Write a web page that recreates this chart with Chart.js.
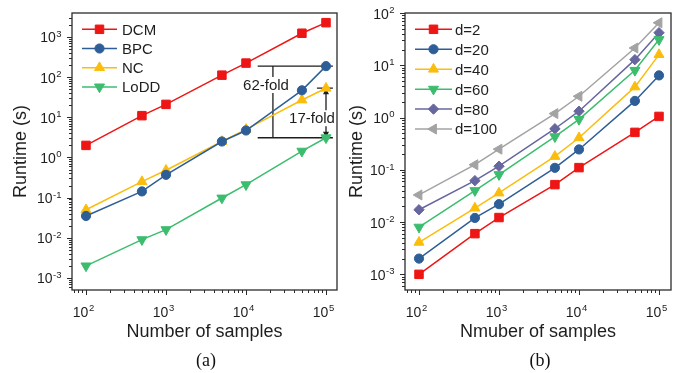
<!DOCTYPE html>
<html><head><meta charset="utf-8">
<script src="https://cdn.jsdelivr.net/npm/chart.js@4.4.1/dist/chart.umd.min.js"></script>
<style>
html,body{margin:0;padding:0;background:#fff;width:693px;height:373px;overflow:hidden}
#wa{position:absolute;left:0;top:0;width:346px;height:373px}
#wb{position:absolute;left:346px;top:0;width:347px;height:373px}
.cap{position:absolute;top:350px;font-family:"Liberation Serif","Times New Roman",serif;font-size:18px;line-height:20px;color:#111;width:40px;text-align:center}
</style></head><body>
<div id="wa"><canvas id="ca" width="346" height="373"></canvas></div>
<div id="wb"><canvas id="cb" width="347" height="373"></canvas></div>
<div class="cap" style="left:186px">(a)</div>
<div class="cap" style="left:520px">(b)</div>
<script>
// ---- data ----
const samples = [100, 500, 1000, 5000, 10000, 50000, 100000];
// panel (a)
const dcm  = [2, 11, 21, 112, 224, 1240, 2270];
const bpc  = [0.035, 0.143, 0.37, 2.5, 4.7, 47, 188];
const nc   = [0.05, 0.25, 0.48, 2.5, 5.0, 27, 53];
const lodd = [0.002, 0.009, 0.016, 0.098, 0.21, 1.44, 3.1];
// panel (b)
const d2   = [0.001, 0.006, 0.0122, 0.052, 0.11, 0.52, 1.05];
const d20  = [0.002, 0.012, 0.022, 0.109, 0.245, 2.08, 6.4];
const d40  = [0.0041, 0.0185, 0.036, 0.18, 0.41, 3.85, 16];
const d60  = [0.008, 0.04, 0.081, 0.43, 0.92, 8.0, 31];
const d80  = [0.0172, 0.062, 0.117, 0.61, 1.32, 12.8, 42];
const d100 = [0.033, 0.125, 0.248, 1.19, 2.55, 21.4, 65];
// tick labels (exponents of 10)
const xTickExps  = [2, 3, 4, 5];
const yTickExpsA = [-3, -2, -1, 0, 1, 2, 3];
const yTickExpsB = [-3, -2, -1, 0, 1, 2];
// annotation labels
const foldLabels = ['62-fold', '17-fold'];

const FONT = "'Liberation Sans', Arial, Helvetica, sans-serif";
const C = {red:'#ee1515', blue:'#2e5e97', yellow:'#fbbd0d', green:'#3cbd6e', purple:'#67679f', gray:'#a3a3a3'};

function series(arr){ return samples.map((x,i)=>({x:x, y:arr[i]})); }
function ds(label, arr, color, style, radius, rotation){
  return {label, data: series(arr), borderColor: color, backgroundColor: color,
    pointBackgroundColor: color, pointBorderColor: color, pointStyle: style,
    pointRadius: radius, pointHoverRadius: radius, pointRotation: rotation||0, pointBorderWidth: 1,
    borderWidth: 1.5, tension: 0, fill: false, clip: false};
}

function drawMarker(ctx, style, r, rot, x, y){
  if (Chart.helpers && Chart.helpers.drawPoint){
    Chart.helpers.drawPoint(ctx, {pointStyle: style, radius: r, rotation: rot, borderWidth: 1}, x, y);
    return;
  }
  ctx.beginPath(); ctx.arc(x, y, r, 0, Math.PI*2); ctx.fill(); ctx.stroke();
}

function drawPow(ctx, x, cy, e, align){
  ctx.font = '14px ' + FONT;
  const w10 = ctx.measureText('10').width;
  ctx.font = '9.5px ' + FONT;
  const se = String(e);
  const we = ctx.measureText(se).width + 0.5;
  const w = w10 + we;
  let sx = align === 'center' ? x - w/2 - 2.5 : x - w;
  ctx.textAlign = 'left'; ctx.textBaseline = 'alphabetic';
  ctx.font = '14px ' + FONT;
  ctx.fillText('10', sx, cy + 5);
  ctx.font = '9.5px ' + FONT;
  ctx.fillText(se, sx + w10 + 0.5, cy - 4 + 3.4);
}

const frameTicks = {
  id: 'frameTicks',
  afterDraw(chart, args, opts){
    const ctx = chart.ctx, ca = chart.chartArea;
    const xs = chart.scales.x, ys = chart.scales.y;
    ctx.save();
    ctx.strokeStyle = '#2b2b2b'; ctx.lineWidth = 1.3;
    ctx.strokeRect(ca.left, ca.top, ca.right - ca.left, ca.bottom - ca.top);
    ctx.lineWidth = 1;
    ctx.beginPath();
    for (let e = Math.floor(Math.log10(xs.min)); e <= Math.ceil(Math.log10(xs.max)); e++){
      for (let k = 1; k < 10; k++){
        const v = k * Math.pow(10, e);
        if (v < xs.min || v > xs.max) continue;
        const px = Math.round(xs.getPixelForValue(v)) + 0.5;
        const len = k === 1 ? 5 : 3;
        ctx.moveTo(px, ca.bottom); ctx.lineTo(px, ca.bottom + len);
      }
    }
    for (let e = Math.floor(Math.log10(ys.min)); e <= Math.ceil(Math.log10(ys.max)); e++){
      for (let k = 1; k < 10; k++){
        const v = k * Math.pow(10, e);
        if (v < ys.min * 0.999 || v > ys.max * 1.001) continue;
        const py = Math.round(ys.getPixelForValue(v)) + 0.5;
        const len = k === 1 ? 5 : 3;
        ctx.moveTo(ca.left, py); ctx.lineTo(ca.left - len, py);
      }
    }
    ctx.stroke();
    ctx.fillStyle = '#1e1e1e';
    opts.xExps.forEach(e => drawPow(ctx, xs.getPixelForValue(Math.pow(10, e)), ca.bottom + 21.5, e, 'center'));
    opts.yExps.forEach(e => drawPow(ctx, ca.left - 10.5, ys.getPixelForValue(Math.pow(10, e)) + 0.5, e, 'right'));
    // legend
    const L = opts.legend;
    chart.data.datasets.forEach((d, i) => {
      const y = L.y0 + i * L.dy;
      ctx.strokeStyle = d.borderColor; ctx.lineWidth = 1.5;
      ctx.beginPath(); ctx.moveTo(L.x0, y); ctx.lineTo(L.x1, y); ctx.stroke();
      ctx.fillStyle = d.pointBackgroundColor; ctx.strokeStyle = d.pointBorderColor; ctx.lineWidth = 1;
      drawMarker(ctx, d.pointStyle, d.pointRadius, d.pointRotation, (L.x0 + L.x1) / 2, y);
      ctx.fillStyle = '#1e1e1e';
      ctx.font = '15px ' + FONT; ctx.textAlign = 'left'; ctx.textBaseline = 'alphabetic';
      ctx.fillText(d.label, L.tx, y + 5.4);
    });
    ctx.restore();
  }
};

// fold annotation for panel (a)
const foldAnnot = {
  id: 'foldAnnot',
  beforeDatasetsDraw(chart, args, opts){
    if (!opts || !opts.on) return;
    const ctx = chart.ctx, xs = chart.scales.x, ys = chart.scales.y;
    const last = samples.length - 1;
    const yTop = ys.getPixelForValue(bpc[last]);
    const yMid = ys.getPixelForValue(nc[last]);
    const yBot = ys.getPixelForValue(lodd[last]);
    const xL = xs.getPixelForValue(14000), xR = xs.getPixelForValue(122000);
    const xS = xs.getPixelForValue(77000);
    const xV1 = xs.getPixelForValue(21700), xV2 = xs.getPixelForValue(samples[last]);
    const t1x = xs.getPixelForValue(17800), t1y = ys.getPixelForValue(64);
    const t2x = xs.getPixelForValue(66800), t2y = ys.getPixelForValue(9.5);
    ctx.save();
    ctx.strokeStyle = '#1e1e1e'; ctx.lineWidth = 1.3;
    ctx.beginPath();
    ctx.moveTo(xL, yTop); ctx.lineTo(xR, yTop);
    ctx.moveTo(xL, yBot); ctx.lineTo(xR, yBot);
    ctx.moveTo(xS, yMid); ctx.lineTo(xR, yMid);
    ctx.moveTo(xV1, yTop); ctx.lineTo(xV1, t1y - 8);
    ctx.moveTo(xV1, t1y + 8); ctx.lineTo(xV1, yBot);
    ctx.moveTo(xV2, yMid); ctx.lineTo(xV2, t2y - 8);
    ctx.moveTo(xV2, t2y + 8); ctx.lineTo(xV2, yBot);
    ctx.stroke();
    ctx.fillStyle = '#1e1e1e';
    ctx.beginPath();
    ctx.moveTo(xV2, yMid); ctx.lineTo(xV2 - 3, yMid + 6); ctx.lineTo(xV2 + 3, yMid + 6); ctx.closePath();
    ctx.moveTo(xV2, yBot); ctx.lineTo(xV2 - 3, yBot - 6); ctx.lineTo(xV2 + 3, yBot - 6); ctx.closePath();
    ctx.fill();
    ctx.font = '15px ' + FONT; ctx.textAlign = 'center'; ctx.textBaseline = 'middle';
    ctx.fillStyle = '#1e1e1e';
    ctx.fillText(foldLabels[0], t1x, t1y + 1);
    ctx.fillText(foldLabels[1], t2x, t2y + 1);
    ctx.restore();
  }
};

function makeChart(id, datasets, cfg){
  return new Chart(document.getElementById(id), {
    type: 'line',
    data: {datasets},
    plugins: [foldAnnot, frameTicks],
    options: {
      responsive: false, animation: false, devicePixelRatio: 1,
      layout: {padding: {left: 0, right: cfg.padRight, top: 13, bottom: 0}},
      plugins: {
        legend: {display: false}, tooltip: {enabled: false},
        frameTicks: {xExps: xTickExps, yExps: cfg.yExps, legend: cfg.legend},
        foldAnnot: {on: cfg.annot}
      },
      scales: {
        x: {type: 'logarithmic', position: 'bottom', bounds: 'data', min: cfg.xmin, max: cfg.xmax,
            ticks: {display: false}, grid: {display: false}, border: {display: false},
            title: {display: true, text: cfg.xTitle, color: '#1e1e1e', font: {family: FONT, size: 18}, padding: {top: 0, bottom: 30.5}},
            afterFit(s){ s.height = 83; }},
        y: {type: 'logarithmic', position: 'left', bounds: 'data', min: cfg.ymin, max: cfg.ymax,
            ticks: {display: false}, grid: {display: false}, border: {display: false},
            title: {display: true, text: 'Runtime (s)', color: '#1e1e1e', font: {family: FONT, size: 18}, padding: {top: cfg.yTitlePad, bottom: 0}},
            afterFit(s){ s.width = cfg.yw; }}
      }
    }
  });
}

makeChart('ca', [
  ds('DCM', dcm, C.red, 'rect', 6, 0),
  ds('BPC', bpc, C.blue, 'circle', 4.6, 0),
  ds('NC', nc, C.yellow, 'triangle', 5.8, 0),
  ds('LoDD', lodd, C.green, 'triangle', 5.8, 180)
], {padRight: 9, yw: 72, xmin: Math.pow(10, 1.825), xmax: Math.pow(10, 5.1375),
    ymin: Math.pow(10, -3.299), ymax: Math.pow(10, 3.597), yExps: yTickExpsA,
    xTitle: 'Number of samples', yTitlePad: 10.2, annot: true,
    legend: {x0: 82, x1: 117, tx: 122, y0: 29.3, dy: 19.2}});

makeChart('cb', [
  ds('d=2', d2, C.red, 'rect', 6, 0),
  ds('d=20', d20, C.blue, 'circle', 4.6, 0),
  ds('d=40', d40, C.yellow, 'triangle', 5.8, 0),
  ds('d=60', d60, C.green, 'triangle', 5.8, 180),
  ds('d=80', d80, C.purple, 'rectRot', 5.2, 0),
  ds('d=100', d100, C.gray, 'triangle', 5.8, -90)
], {padRight: 22, yw: 59, xmin: Math.pow(10, 1.825), xmax: Math.pow(10, 5.15),
    ymin: Math.pow(10, -3.3), ymax: 100, yExps: yTickExpsB,
    xTitle: 'Nmuber of samples', yTitlePad: 0, annot: false,
    legend: {x0: 69, x1: 106, tx: 109, y0: 29.3, dy: 19.95}});
</script>
</body></html>
